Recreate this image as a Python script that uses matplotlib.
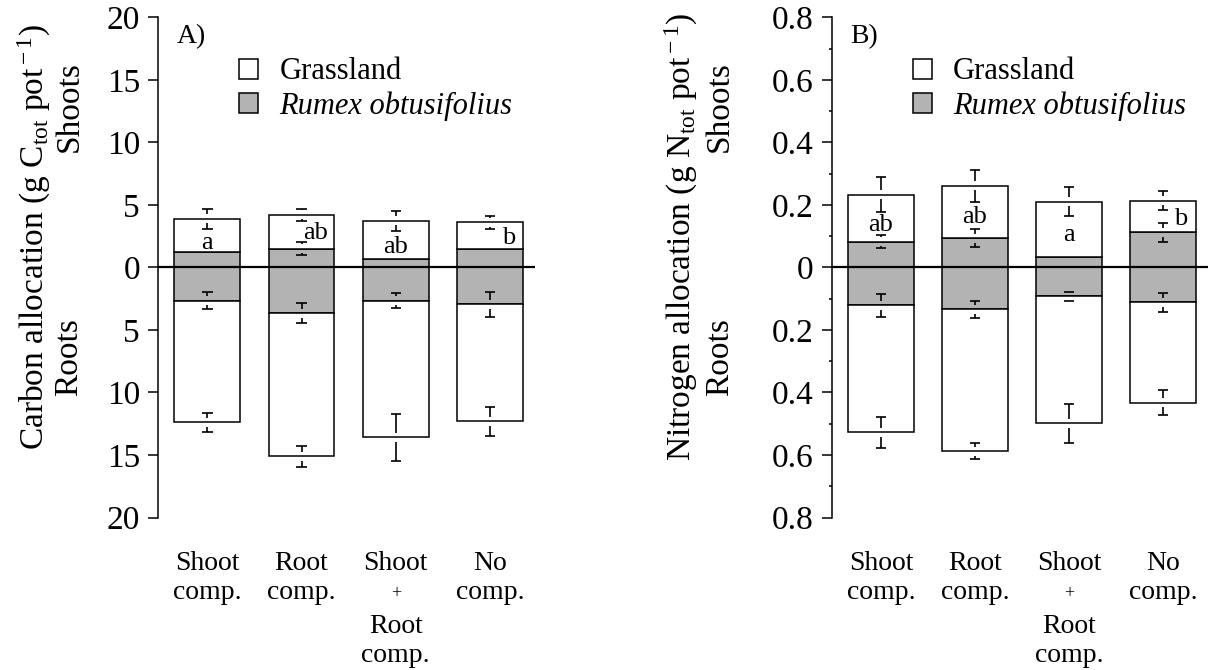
"""Carbon and nitrogen allocation to shoots/roots of Grassland vs Rumex obtusifolius."""
import numpy as np
import matplotlib
matplotlib.use("Agg")
import matplotlib.pyplot as plt  # noqa: E402
from matplotlib.patches import Patch  # noqa: E402

plt.rcParams["font.family"] = ["Liberation Serif", "DejaVu Serif"]
plt.rcParams["mathtext.fontset"] = "custom"
plt.rcParams["mathtext.rm"] = "Liberation Serif"
plt.rcParams["mathtext.it"] = "Liberation Serif:italic"

GRAY = "#b3b3b3"

categories = ["Shoot\ncomp.", "Root\ncomp.", "Shoot\n+\nRoot\ncomp.", "No\ncomp."]

# Panel A: carbon (g C_tot per pot); shoot totals are grassland + Rumex stacked
c_rumex_shoot = [1.25, 1.5, 0.68, 1.5]
c_total_shoot = [3.9, 4.2, 3.75, 3.6]
c_rumex_root = [2.65, 3.65, 2.65, 2.95]
c_total_root = [12.4, 15.1, 13.6, 12.3]
c_se_rumex_shoot = [np.nan, 0.5, np.nan, np.nan]
c_se_total_shoot = [0.8, 0.5, 0.8, 0.55]
c_se_rumex_root = [0.65, 0.8, 0.62, 1.0]
c_se_total_root = [0.75, 0.85, 1.9, 1.15]
c_letters = ["a", "ab", "ab", "b"]
c_letter_x = [0.0, 1.15, 2.0, 3.2]
c_letter_y = [1.96, 2.77, 1.64, 2.36]
c_ticks = [-20, -15, -10, -5, 0, 5, 10, 15, 20]
c_ticklabels = ["20", "15", "10", "5", "0", "5", "10", "15", "20"]

# Panel B: nitrogen (g N_tot per pot)
n_rumex_shoot = [0.083, 0.094, 0.033, 0.112]
n_total_shoot = [0.233, 0.261, 0.211, 0.214]
n_rumex_root = [0.121, 0.134, 0.092, 0.112]
n_total_root = [0.527, 0.588, 0.499, 0.433]
n_se_rumex_shoot = [0.021, 0.028, np.nan, 0.03]
n_se_total_shoot = [0.055, 0.05, 0.047, 0.03]
n_se_rumex_root = [0.037, 0.027, 0.015, 0.03]
n_se_total_root = [0.05, 0.025, 0.062, 0.04]
n_letters = ["ab", "ab", "a", "b"]
n_letter_x = [0.0, 1.0, 2.0, 3.19]
n_letter_y = [0.136, 0.162, 0.104, 0.154]
n_ticks = [-0.8, -0.6, -0.4, -0.2, 0, 0.2, 0.4, 0.6, 0.8]
n_ticklabels = ["0.8", "0.6", "0.4", "0.2", "0", "0.2", "0.4", "0.6", "0.8"]
n_minor = [-0.7, -0.5, -0.3, -0.1, 0.1, 0.3, 0.5, 0.7]


def split_errorbar(ax, x, vals, ses, gap, cap=0.055):
    """Error bars drawn as cap + stem, with a small gap at the bar edge."""
    for xi, v, s in zip(x, vals, ses):
        if np.isnan(s):
            continue
        for sign in (1, -1):
            end = v + sign * s
            ax.hlines(end, xi - cap, xi + cap, color="black", lw=1.2, zorder=4)
            if s > gap:
                ax.vlines(xi, v + sign * gap, end, color="black", lw=1.2, zorder=4)


def panel(ax, rs, ts, rr, tr, se_rs, se_ts, se_rr, se_tr, ylim, ticks, ticklabels, gap,
          letters, lx, ly, tag, ylabel, text_x, shoots_x):
    x = np.arange(len(categories))
    w = 0.70
    kw = dict(width=w, edgecolor="black", linewidth=1.1, zorder=2)
    ts, tr, rs, rr = map(np.asarray, (ts, tr, rs, rr))
    ax.bar(x, rs, color=GRAY, **kw)
    ax.bar(x, ts - rs, bottom=rs, color="white", **kw)
    ax.bar(x, -rr, color=GRAY, **kw)
    ax.bar(x, -(tr - rr), bottom=-rr, color="white", **kw)

    split_errorbar(ax, x, ts, se_ts, gap)
    split_errorbar(ax, x, rs, se_rs, gap)
    split_errorbar(ax, x, -rr, se_rr, gap)
    split_errorbar(ax, x, -tr, se_tr, gap)

    ax.axhline(0, color="black", lw=1.6, zorder=3)
    ax.set_ylim(-ylim, ylim)
    ax.set_xlim(-0.525, 3.48)
    ax.set_yticks(ticks)
    ax.set_yticklabels(ticklabels, fontsize=24)
    ax.tick_params(axis="y", length=7, width=1.1, pad=6)
    ax.tick_params(axis="y", which="minor", length=2.5, width=1.1)
    ax.set_xticks([])
    for s in ("top", "right", "bottom"):
        ax.spines[s].set_visible(False)
    ax.spines["left"].set_linewidth(1.1)

    for t, xx, yy in zip(letters, lx, ly):
        ax.text(xx, yy, t, ha="center", va="center", fontsize=19, zorder=5)

    # category labels under the axis
    for i, lab in enumerate(categories):
        lines = lab.split("\n")
        if len(lines) == 2:
            offs = [37.8, 59.0]
        else:
            offs = [37.8, 54.5, 83.2, 104.0]
        for line, off in zip(lines, offs):
            if line == "+":
                ax.annotate(line, xy=(i, 0), xycoords=("data", "axes fraction"),
                            xytext=(0, -off), textcoords="offset points",
                            ha="center", va="center", fontsize=13)
            else:
                ax.annotate(line, xy=(i, 0), xycoords=("data", "axes fraction"),
                            xytext=(0, -off), textcoords="offset points",
                            ha="center", va="baseline", fontsize=20)

    ax.text(0.05, 0.962, tag, transform=ax.transAxes, fontsize=20, ha="left", va="center")
    leg = ax.legend(handles=[Patch(facecolor="white", edgecolor="black", lw=1.1),
                             Patch(facecolor=GRAY, edgecolor="black", lw=1.1)],
                    labels=["Grassland", "Rumex obtusifolius"],
                    loc="upper left", bbox_to_anchor=(0.215, 0.92), frameon=False,
                    fontsize=22, handlelength=0.62, handleheight=0.62,
                    handletextpad=0.7, borderpad=0, borderaxespad=0, labelspacing=0.16)
    leg.get_texts()[1].set_style("italic")

    ax.text(text_x, 0.561, ylabel, transform=ax.transAxes, rotation=90,
            ha="center", va="center", fontsize=24)
    ax.text(shoots_x, 0.822, "Shoots", transform=ax.transAxes, rotation=90,
            ha="center", va="center", fontsize=24)
    ax.text(shoots_x, 0.321, "Roots", transform=ax.transAxes, rotation=90,
            ha="center", va="center", fontsize=24)


fig = plt.figure(figsize=(12.08, 6.70), dpi=100)
axA = fig.add_axes([158 / 1208, 1 - 517.5 / 670, 377 / 1208, 500 / 670])
axB = fig.add_axes([831.7 / 1208, 1 - 517.5 / 670, 376.3 / 1208, 500 / 670])

panel(axA, c_rumex_shoot, c_total_shoot, c_rumex_root, c_total_root,
      c_se_rumex_shoot, c_se_total_shoot, c_se_rumex_root, c_se_total_root,
      20, c_ticks, c_ticklabels, 0.36, c_letters, c_letter_x, c_letter_y, "A)",
      r"Carbon allocation (g C$_{\rm tot}$ pot$^{\rm -1}$)", -0.329, -0.236)
panel(axB, n_rumex_shoot, n_total_shoot, n_rumex_root, n_total_root,
      n_se_rumex_shoot, n_se_total_shoot, n_se_rumex_root, n_se_total_root,
      0.8, n_ticks, n_ticklabels, 0.0145, n_letters, n_letter_x, n_letter_y, "B)",
      r"Nitrogen allocation (g N$_{\rm tot}$ pot$^{\rm -1}$)", -0.398, -0.297)
axB.set_yticks(n_minor, minor=True)

fig.savefig("out.png", dpi=100)
plt.close(fig)
